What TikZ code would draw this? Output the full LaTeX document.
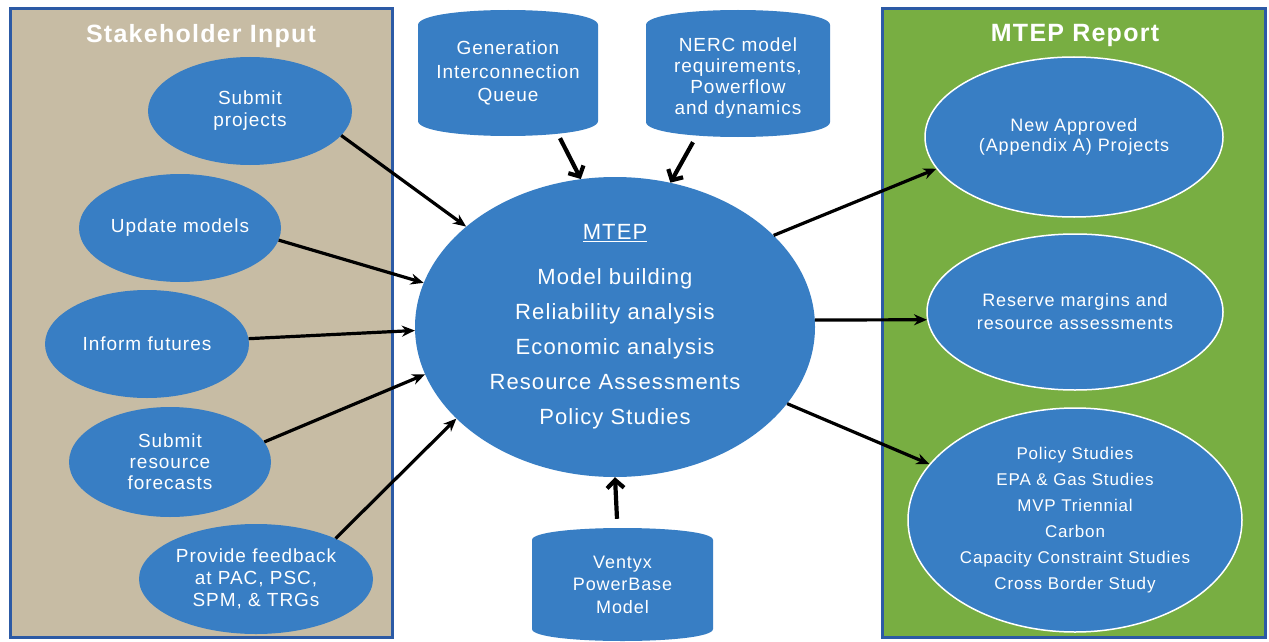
\documentclass[tikz,border=0pt]{standalone}
\usepackage{fontspec}
\setmainfont{Liberation Sans}[LetterSpace=5]
\usetikzlibrary{shapes.geometric,arrows.meta,calc}
\definecolor{mblue}{RGB}{56,126,196}
\definecolor{tanbg}{RGB}{199,188,164}
\definecolor{grbg}{RGB}{120,174,66}
\definecolor{bordblue}{RGB}{44,90,165}
\begin{document}
\begin{tikzpicture}[x=1pt,y=-1pt,
  panel/.style={draw=bordblue,line width=3pt},
  ttl/.style={text=white,font=\fontsize{25}{28}\selectfont\bfseries},
  oval/.style={ellipse,fill=mblue,text=white,inner sep=0pt,align=center,font=\fontsize{19}{22}\selectfont},
  rov/.style={oval,draw=white,line width=1.5pt,font=\fontsize{18}{21}\selectfont},
  cyltxt/.style={text=white,align=center,inner sep=0pt,font=\fontsize{19}{23.5}\selectfont},
  arr/.style={line width=3.2pt,-{Stealth[length=13pt,width=11pt]}},
  arrT/.style={line width=4.2pt,-{Straight Barb[length=8pt,width=17pt]}}]
\useasboundingbox (0,0) rectangle (1269,642);
\fill[white] (0,0) rectangle (1269,642);
% panels
\filldraw[panel,fill=tanbg] (10,9) rectangle (392,637);
\filldraw[panel,fill=grbg] (882,9) rectangle (1265,637);
\node[ttl] (tleft) at (201,36) {Stakeholder Input};
\node[ttl] (tright) at (1075,35) {MTEP Report};
% data-store shapes
\fill[mblue] (418,25) .. controls (418,5) and (598,5) .. (598,25) -- (598,121) .. controls (598,141) and (418,141) .. (418,121) -- cycle;
\fill[mblue] (646,25) .. controls (646,5) and (830,5) .. (830,25) -- (830,122) .. controls (830,142) and (646,142) .. (646,122) -- cycle;
\fill[mblue] (532,540) .. controls (532,524) and (713,524) .. (713,540) -- (713,629) .. controls (713,645) and (532,645) .. (532,629) -- cycle;
\node[cyltxt,minimum width=180pt,minimum height=96pt] (gq) at (508,73) {Generation\\Interconnection\\Queue};
\node[cyltxt,minimum width=184pt,minimum height=97pt,font=\fontsize{19}{21}\selectfont] (nerc) at (738,78) {NERC model\\requirements,\\Powerflow\\and dynamics};
\node[cyltxt,minimum width=181pt,minimum height=89pt,font=\fontsize{18}{22.5}\selectfont] (vx) at (622.5,584.5) {Ventyx\\PowerBase\\Model};
% left ovals
\node[oval,minimum width=204pt,minimum height=108pt] (sp) at (250,111) {Submit\\projects};
\node[oval,minimum width=202pt,minimum height=108pt] (um) at (180,228) {Update models};
\node[oval,minimum width=204pt,minimum height=108pt] (inf) at (147,344) {Inform futures};
\node[oval,minimum width=202pt,minimum height=110pt,font=\fontsize{19}{21}\selectfont] (srf) at (170,462) {Submit\\resource\\forecasts};
\node[oval,minimum width=234pt,minimum height=110pt] (pf) at (256,579) {Provide feedback\\at PAC, PSC,\\SPM, \& TRGs};
% centre
\node[oval,minimum width=400pt,minimum height=300pt,font=\fontsize{22}{35}\selectfont] (mtep) at (615,327) {\underline{MTEP}\\[10pt]Model building\\Reliability analysis\\Economic analysis\\Resource Assessments\\Policy Studies};
% right ovals
\node[rov,minimum width=298pt,minimum height=160pt,font=\fontsize{18}{20}\selectfont] (na) at (1074,137) {New Approved\\(Appendix A) Projects};
\node[rov,minimum width=296pt,minimum height=156pt,font=\fontsize{18}{23}\selectfont] (rm) at (1075,312) {Reserve margins and\\resource assessments};
\node[rov,minimum width=334pt,minimum height=224pt,font=\fontsize{17}{26}\selectfont] (ps) at (1075,520) {Policy Studies\\EPA \& Gas Studies\\MVP Triennial\\Carbon\\Capacity Constraint Studies\\Cross Border Study};
% arrows
\draw[arr] (sp.-15.6) -- (mtep.146.7);
\draw[arr] (um.-7.9) -- (mtep.167.9);
\draw[arr] (inf.3.4) -- (mtep.181.4);
\draw[arr] (srf.12.7) -- (mtep.194.6);
\draw[arr] (pf.27) -- (mtep.210.8);
\draw[arrT] ($(gq.south)+(52,17)$) -- (mtep.103.7);
\draw[arrT] ($(nerc.south)+(-45,15.5)$) -- (mtep.69.4);
\draw[arrT] ($(vx.north)+(-5.5,-21)$) -- (mtep.270);
\draw[arr] (mtep.30.4) -- (na.193.5);
\draw[arr] (mtep.2) -- (rm.183.4);
\draw[arr] (mtep.-24.3) -- (ps.159.2);
\end{tikzpicture}
\end{document}
